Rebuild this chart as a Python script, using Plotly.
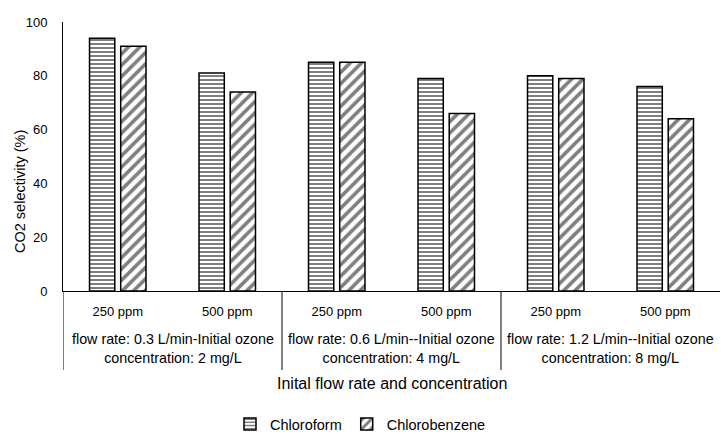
import plotly.graph_objects as go

ppm_labels = ["250 ppm", "500 ppm", "250 ppm", "500 ppm", "250 ppm", "500 ppm"]
group_labels = [
    "flow rate: 0.3 L/min-Initial ozone<br>concentration: 2 mg/L",
    "flow rate: 0.6 L/min--Initial ozone<br>concentration: 4 mg/L",
    "flow rate: 1.2 L/min--Initial ozone<br>concentration: 8 mg/L",
]
chloroform = [94, 81, 85, 79, 80, 76]
chlorobenzene = [91, 74, 85, 66, 79, 64]
y_ticks = [0, 20, 40, 60, 80, 100]

FONT = "Liberation Sans, Arial, sans-serif"
xs = list(range(len(ppm_labels)))

PLOT_W = 721 - 63 - 1
PLOT_H = 440 - 22 - 149  # plot area height in px

fig = go.Figure()
fig.add_trace(go.Bar(
    x=xs, y=chloroform, name="Chloroform",
    marker=dict(color="white", line=dict(color="black", width=1.5),
                pattern=dict(shape="-", fgcolor="black", bgcolor="white", size=4, solidity=0.5)),
))
fig.add_trace(go.Bar(
    x=xs, y=chlorobenzene, name="Chlorobenzene",
    marker=dict(color="white", line=dict(color="black", width=1.5),
                pattern=dict(shape="/", fgcolor="black", bgcolor="white", size=8, solidity=0.45)),
))

shapes = []
for xd in [-0.5, 1.5, 3.5]:
    shapes.append(dict(type="line", xref="x", yref="paper", x0=xd, x1=xd, y0=0, y1=-(370 - 291) / PLOT_H,
                       line=dict(color="black", width=1)))

annotations = []
for g, lab in enumerate(group_labels):
    annotations.append(dict(x=2 * g + 0.5, xref="x", y=-(348.5 - 291) / PLOT_H, yref="paper",
                            yanchor="middle", text=lab, showarrow=False,
                            font=dict(size=14.3, color="black", family=FONT), align="center"))
annotations.append(dict(x=0.5, xref="paper", y=-(383 - 291) / PLOT_H, yref="paper", yanchor="middle",
                        text="Inital flow rate and concentration", showarrow=False,
                        font=dict(size=16, color="black", family=FONT)))
annotations.append(dict(x=(20 - 63) / PLOT_W, xref="paper", y=(291 - 192) / PLOT_H, yref="paper",
                        xanchor="center", yanchor="middle", textangle=-90,
                        text="CO2 selectivity (%)", showarrow=False,
                        font=dict(size=14.5, color="black", family=FONT)))

fig.update_layout(
    width=721, height=440,
    margin=dict(l=63, r=1, t=22, b=149, autoexpand=False),
    paper_bgcolor="white", plot_bgcolor="white",
    font=dict(family=FONT, size=13, color="black"),
    barmode="group", bargap=0.43, bargroupgap=0.19,
    showlegend=True,
    legend=dict(orientation="h", xref="container", yref="container", x=0.5, y=0.0,
                xanchor="center", yanchor="bottom", font=dict(size=14.5, family=FONT),
                itemwidth=30, tracegroupgap=0),
    xaxis=dict(range=[-0.5, 5.5], tickvals=xs, ticktext=ppm_labels, showline=True,
               linecolor="black", linewidth=1, ticks="", showgrid=False, zeroline=False,
               tickfont=dict(size=13), ticklabelstandoff=8),
    yaxis=dict(range=[0, 100], tickvals=y_ticks, showline=True, linecolor="black", linewidth=1,
               ticks="", showgrid=False, zeroline=False, tickfont=dict(size=13), ticklabelstandoff=12),
    shapes=shapes, annotations=annotations,
)

fig.write_html("out.html", config={"displayModeBar": False},
               post_script="document.body.style.margin='0px';")
